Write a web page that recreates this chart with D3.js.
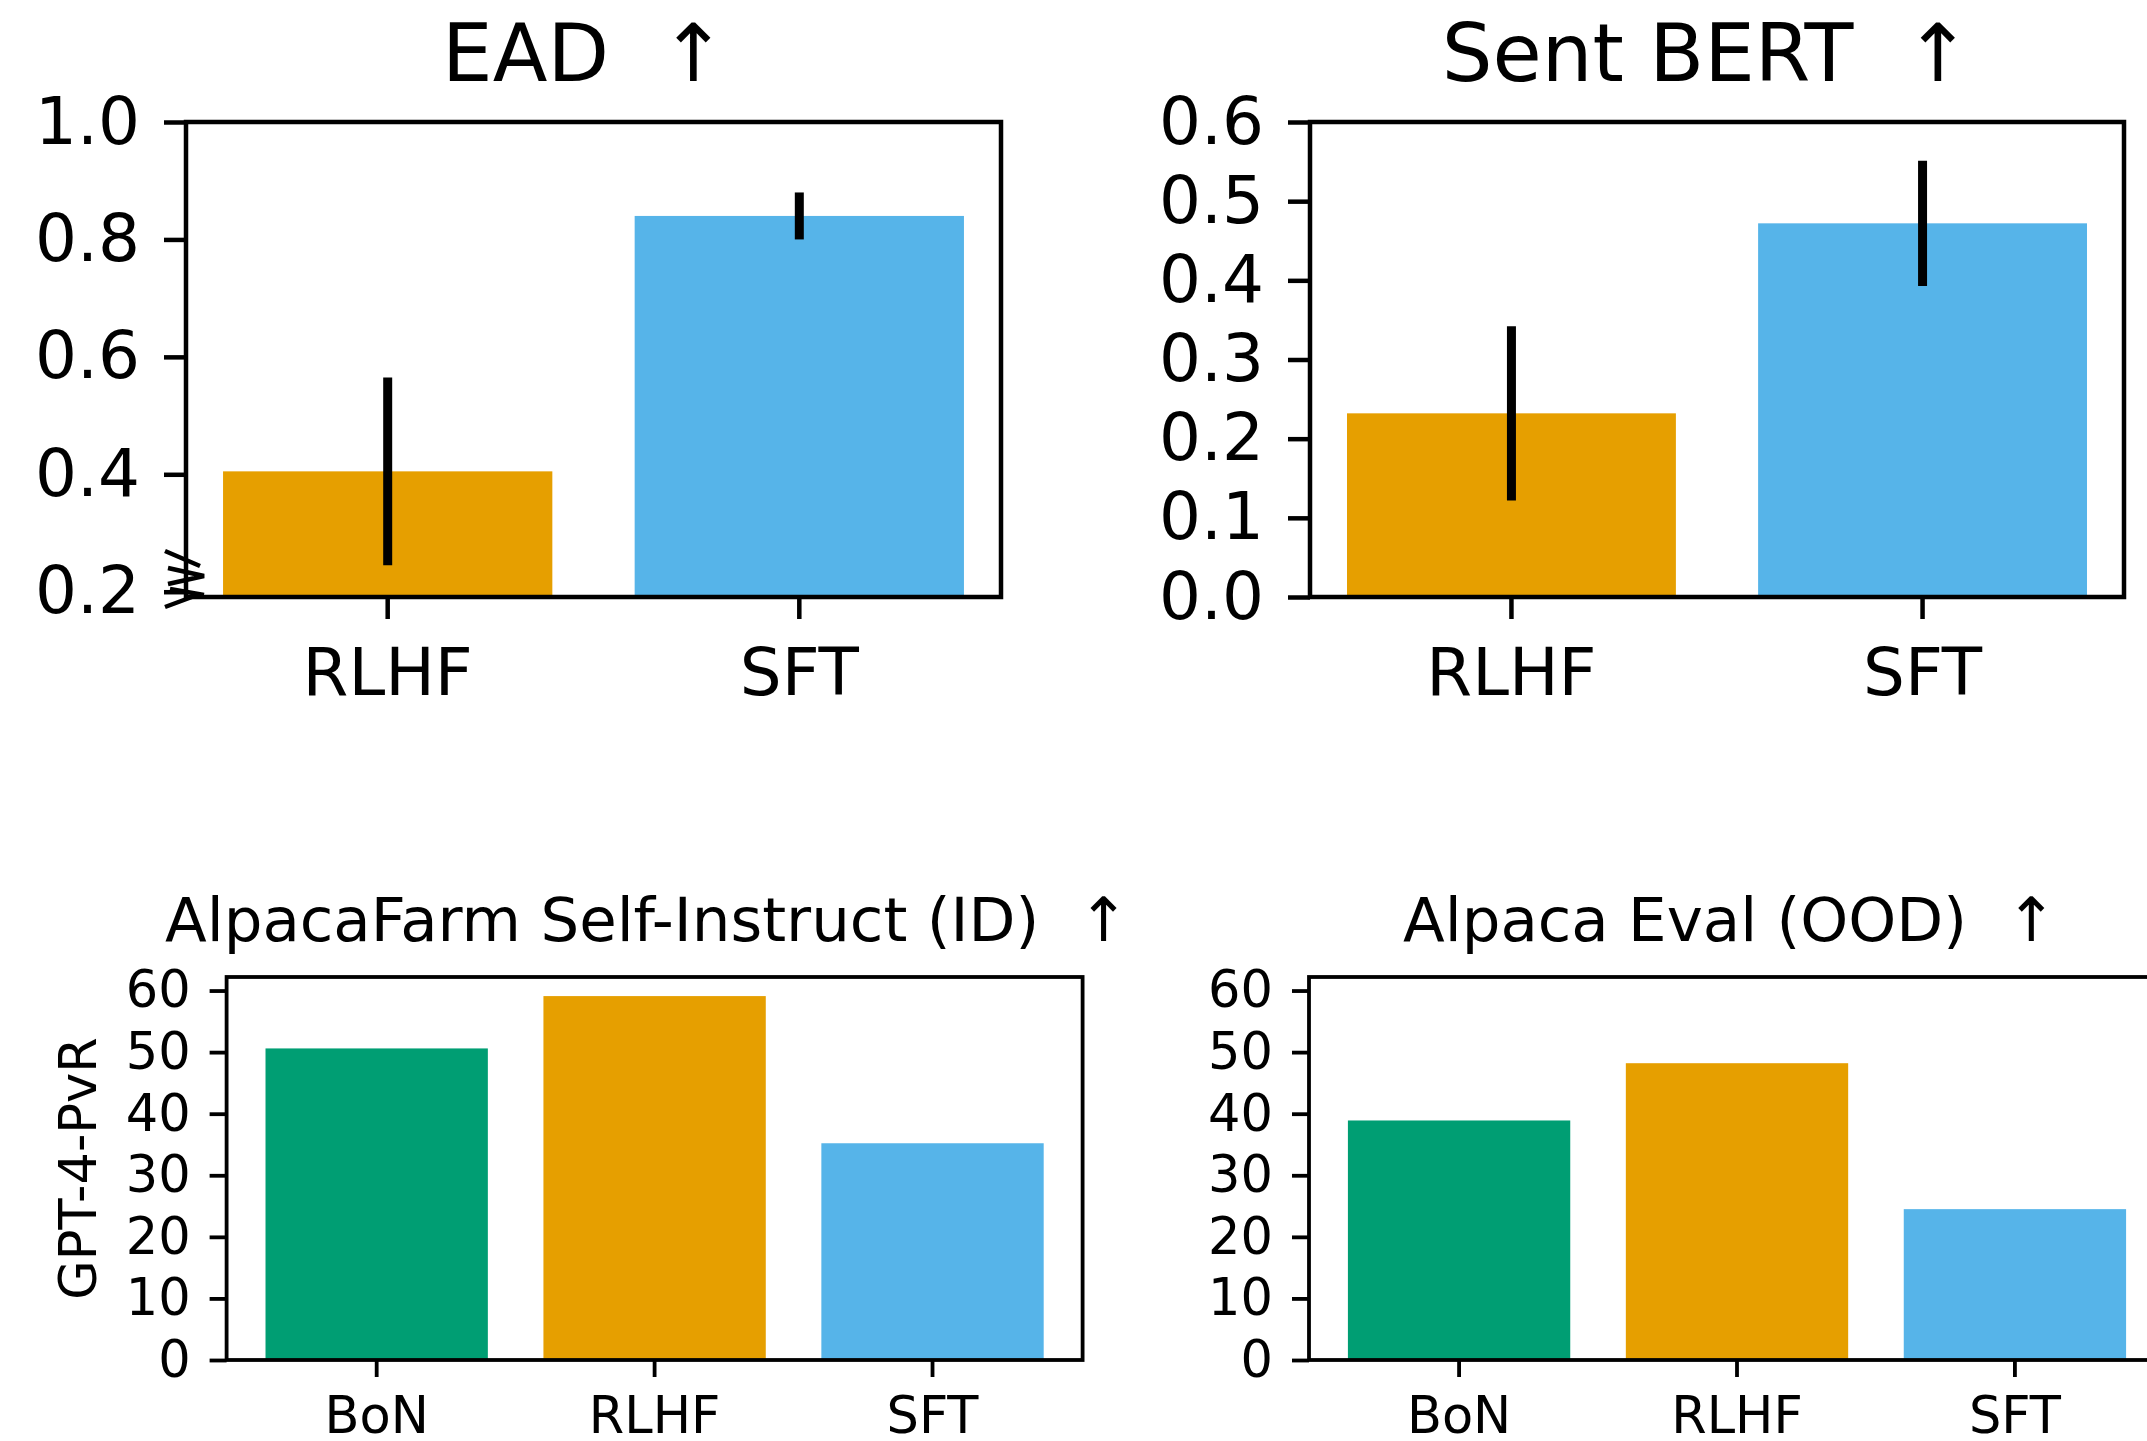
<!DOCTYPE html>
<html>
<head>
<meta charset="utf-8">
<script src="https://cdn.jsdelivr.net/npm/d3@7"></script>
<style>
  body { margin: 0; background: #fff; }
  text { font-family: "DejaVu Sans", sans-serif; fill: #000; }
</style>
</head>
<body>
<svg id="fig"></svg>
<script>
// data
const topCategories = ['RLHF', 'SFT'];
const eadValues = [0.405, 0.84];
const eadErrors = [0.16, 0.04];
const eadTicks = [0.2, 0.4, 0.6, 0.8, 1.0];

const sentBertValues = [0.232, 0.472];
const sentBertErrors = [0.11, 0.079];
const sentBertTicks = [0.0, 0.1, 0.2, 0.3, 0.4, 0.5, 0.6];

const gptCategories = ['BoN', 'RLHF', 'SFT'];
const selfInstructValues = [50.6, 59.1, 35.2];
const alpacaEvalValues = [38.9, 48.2, 24.5];
const gptTicks = [0, 10, 20, 30, 40, 50, 60];

const colors = {BoN: '#009E73', RLHF: '#E69F00', SFT: '#56B4E9'};

const W = 2147, H = 1441;
const svg = d3.select('#fig').attr('width', W).attr('height', H);
svg.append('rect').attr('width', W).attr('height', H).attr('fill', '#fff');

function drawPanel(c) {
    const g = svg.append('g').attr('transform', `translate(${c.left},${c.top})`);

    const x = d3.scaleBand()
        .domain(c.categories)
        .range([0, c.width])
        .paddingInner(0.2)
        .paddingOuter(c.padOuter);

    const y = d3.scaleLinear().domain(c.yDomain).range([c.height, 0]);

    g.selectAll('rect.bar')
        .data(c.categories)
        .enter()
        .append('rect')
        .attr('class', 'bar')
        .attr('x', d => x(d))
        .attr('width', x.bandwidth())
        .attr('y', (d, i) => y(c.values[i]))
        .attr('height', (d, i) => c.height - y(c.values[i]))
        .attr('fill', d => colors[d]);

    if (c.errors) {
        g.selectAll('line.err')
            .data(c.categories)
            .enter()
            .append('line')
            .attr('x1', d => x(d) + x.bandwidth() / 2)
            .attr('x2', d => x(d) + x.bandwidth() / 2)
            .attr('y1', (d, i) => y(c.values[i] - c.errors[i]))
            .attr('y2', (d, i) => y(c.values[i] + c.errors[i]))
            .attr('stroke', '#000')
            .attr('stroke-width', c.errWidth);
    }

    const yAxis = g.append('g')
        .call(d3.axisLeft(y)
            .tickValues(c.yTicks)
            .tickFormat(c.format)
            .tickSize(c.tickLen)
            .tickPadding(c.yPad));

    const xAxis = g.append('g')
        .attr('transform', `translate(0,${c.height})`)
        .call(d3.axisBottom(x)
            .tickSize(c.tickLen)
            .tickPadding(c.xPad));

    [yAxis, xAxis].forEach(a => {
        a.select('.domain').remove();
        a.selectAll('line').attr('stroke', '#000').attr('stroke-width', c.stroke);
        a.selectAll('text')
            .style('font-family', '"DejaVu Sans", sans-serif')
            .style('font-size', c.tickFont + 'px')
            .attr('fill', '#000');
    });

    // frame
    g.append('rect')
        .attr('width', c.width)
        .attr('height', c.height)
        .attr('fill', 'none')
        .attr('stroke', '#000')
        .attr('stroke-width', c.stroke);

    g.append('text')
        .attr('x', c.width / 2 + c.titleShift)
        .attr('y', c.titleY - c.top)
        .attr('text-anchor', 'middle')
        .style('font-size', c.titleFont + 'px')
        .style('white-space', 'pre')
        .text(c.title);

    if (c.ylabel) {
        g.append('text')
            .attr('transform', `translate(${c.ylabelX - c.left},${c.height / 2}) rotate(-90)`)
            .attr('text-anchor', 'middle')
            .style('font-size', c.tickFont + 'px')
            .text(c.ylabel);
    }
    return g;
}

const topCommon = {
    top: 122, height: 475, width: 815,
    categories: topCategories, padOuter: 0.09,
    tickLen: 22, yPad: 24, xPad: 29, tickFont: 66,
    titleFont: 80, titleY: 81,
    stroke: 4.5, errWidth: 9
};

const ead = drawPanel(Object.assign({}, topCommon, {
    left: 186, titleShift: -9,
    values: eadValues, errors: eadErrors,
    yDomain: [0.191, 1.0], yTicks: eadTicks, format: d3.format('.1f'),
    title: 'EAD  \u2191'
}));

// axis break marks near the bottom of the EAD y axis
ead.append('path')
    .attr('d', 'M-21,-46 L14,-31 M-18,-29 L18,-21 L-18,-13 M-16,-8 L18,-2 M-21,10 L14,-3')
    .attr('transform', 'translate(0,475)')
    .attr('fill', 'none')
    .attr('stroke', '#000')
    .attr('stroke-width', 4.5);

drawPanel(Object.assign({}, topCommon, {
    left: 1310, width: 814, titleShift: -10.5,
    values: sentBertValues, errors: sentBertErrors,
    yDomain: [0, 0.6], yTicks: sentBertTicks, format: d3.format('.1f'),
    title: 'Sent BERT  \u2191'
}));

const bottomCommon = {
    top: 977, height: 383, width: 856,
    categories: gptCategories, padOuter: 0.14,
    yDomain: [0, 62.2], yTicks: gptTicks, format: d3.format('d'),
    tickLen: 17, yPad: 19, xPad: 20, tickFont: 51,
    titleFont: 61, titleY: 941,
    stroke: 3.8
};

drawPanel(Object.assign({}, bottomCommon, {
    left: 226.6, titleShift: -7.5,
    values: selfInstructValues,
    title: 'AlpacaFarm Self-Instruct (ID)  \u2191',
    ylabel: 'GPT-4-PvR', ylabelX: 96
}));

drawPanel(Object.assign({}, bottomCommon, {
    left: 1309, titleShift: -7,
    values: alpacaEvalValues,
    title: 'Alpaca Eval (OOD)  \u2191'
}));
</script>
</body>
</html>
